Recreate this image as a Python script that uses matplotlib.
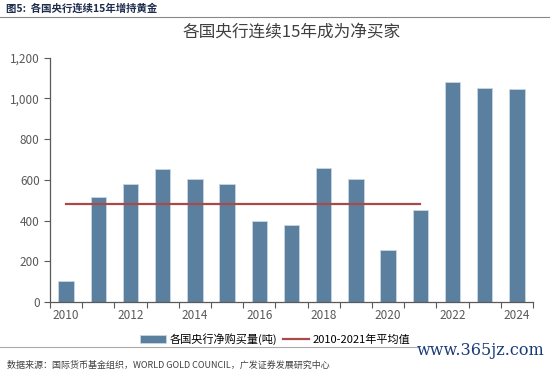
import numpy as np
import matplotlib
matplotlib.use("Agg")
import matplotlib.pyplot as plt
from matplotlib.ticker import FuncFormatter

plt.rcParams["font.family"] = ["Noto Sans CJK SC", "DejaVu Sans"]

years = [2010, 2011, 2012, 2013, 2014, 2015, 2016, 2017,
         2018, 2019, 2020, 2021, 2022, 2023, 2024]
net_buy = [103, 517, 581, 653, 602, 581, 396, 378,
           656, 605, 255, 450, 1080, 1050, 1044]
avg_2010_2021 = 482
avg_label = "2010-2021年平均值"
bar_label = "各国央行净购买量(吨)"

BAR_C = "#5b7f9e"
LINE_C = "#a94a4a"
GRAY = "#595959"

fig = plt.figure(figsize=(5.5, 3.72), dpi=100)
ax = fig.add_axes([0.091, 0.188, 0.878, 0.657])

x = np.arange(len(years))
bars = ax.bar(x, net_buy, width=0.48, color=BAR_C, edgecolor="#c9d6e2", linewidth=0.6,
              label=bar_label, zorder=2)
n_avg = years.index(2021) + 1
line, = ax.plot([x[0], x[n_avg - 1]], [avg_2010_2021] * 2, color=LINE_C, lw=1.6,
                label=avg_label, zorder=3)

ax.set_xlim(-0.5, len(years) - 0.5)
ax.set_ylim(0, 1200)
ax.set_yticks(range(0, 1201, 200))
ax.yaxis.set_major_formatter(FuncFormatter(lambda v, p: f"{v:,.0f}"))

# tick marks between categories, labels every other year
ax.set_xticks(np.arange(-0.5, len(years), 1.0))
ax.set_xticklabels([])
ax.set_xticks(x[::2], minor=True)
ax.set_xticklabels([str(y) for y in years[::2]], minor=True)
ax.tick_params(axis="x", which="major", length=4, width=0.8, color=GRAY, direction="out")
ax.tick_params(axis="x", which="minor", length=0, pad=5, labelsize=8.5, labelcolor=GRAY)
ax.tick_params(axis="y", length=4, width=0.8, color=GRAY, labelsize=8.5, labelcolor=GRAY)

for s in ("top", "right"):
    ax.spines[s].set_visible(False)
for s in ("left", "bottom"):
    ax.spines[s].set_color(GRAY)
    ax.spines[s].set_linewidth(0.9)

ax.set_title("各国央行连续15年成为净买家", fontsize=12, color="#404040", pad=15)

fig.legend([bars, line], [bar_label, avg_label], loc="center",
           bbox_to_anchor=(0.5, 0.089), ncol=2, frameon=False,
           fontsize=8, handlelength=2.4, handleheight=0.7, columnspacing=0.5,
           handletextpad=0.3)

# header and footer
fig.text(0.01, 0.978, "图5:  各国央行连续15年增持黄金", fontsize=7.5, fontweight="bold",
         color="#1f2d4d", va="center")
fig.add_artist(plt.Line2D([0, 1], [0.955, 0.955], color="#888888", lw=0.8))
fig.add_artist(plt.Line2D([0, 0.76], [0.066, 0.066], color="#aaaaaa", lw=0.8))
fig.text(0.012, 0.019, "数据来源：国际货币基金组织，WORLD GOLD COUNCIL，广发证券发展研究中心",
         fontsize=6.5, color="#404040", va="center")
fig.text(0.99, 0.058, "www.365jz.com", fontsize=11.5, color="#1a3c78",
         family="DejaVu Serif", ha="right", va="center")

fig.savefig("out.png", dpi=100)
